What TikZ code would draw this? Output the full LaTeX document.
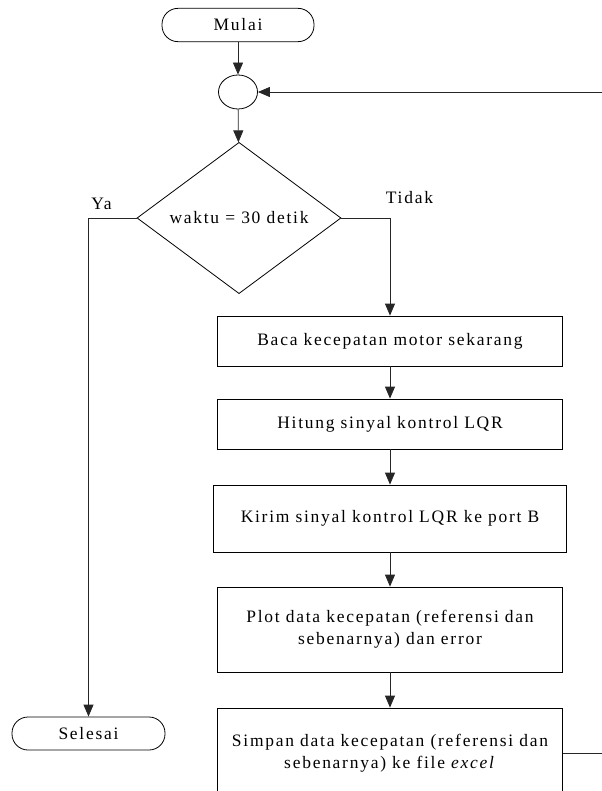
\documentclass[tikz,border=0pt]{standalone}
\usepackage{fontspec}
\setmainfont{Liberation Serif}[LetterSpace=10]
\usetikzlibrary{shapes.geometric,arrows.meta}

\tikzset{
	garis/.style={line width=0.6pt, color=black!85},
	panah/.style={garis, -{Triangle[length=9pt,width=7.5pt]}},
	terminal/.style={draw, line width=0.6pt, rounded corners=12pt, minimum width=114pt, minimum height=25pt, inner sep=0pt},
	proses/.style={draw, line width=0.6pt, align=center, minimum width=258.75pt, minimum height=37.5pt, inner sep=0pt},
}

\begin{document}
\begin{tikzpicture}[x=0.75pt, y=-0.75pt, font=\fontsize{13.1}{16.5}\selectfont]
	\useasboundingbox (0,0) rectangle (602,791);
	% terminal, titik sambung dan keputusan
	\node[terminal] (mulai) at (238,25) {Mulai};
	\node[draw, line width=0.6pt, ellipse, minimum width=29.25pt, minimum height=25.5pt, inner sep=0pt] (sambung) at (238,92) {};
	\node[draw, line width=0.6pt, diamond, minimum width=153pt, minimum height=112.5pt, inner sep=0pt] (cek) at (239,218) {waktu = 30 detik};
	\node (tidak) at (409.5,198) {Tidak};
	\node (ya) at (101.5,204) {Ya};
	\node[terminal, minimum width=114.75pt, minimum height=24.75pt] (selesai) at (88.5,733.5) {Selesai};
	% proses
	\node[proses] (baca) at (390,341) {Baca kecepatan motor sekarang};
	\node[proses] (hitung) at (390,424) {Hitung sinyal kontrol LQR};
	\node[proses, minimum width=264.75pt, minimum height=50.25pt] (kirim) at (390,518.5) {Kirim sinyal kontrol LQR ke port B};
	\node[proses, minimum height=63.75pt] (plot) at (390,629.5) {Plot data kecepatan (referensi dan\\sebenarnya) dan error};
	\node[proses, minimum height=67.5pt] (simpan) at (390,753) {Simpan data kecepatan (referensi dan\\sebenarnya) ke file \textit{excel}};
	% ujung kalang di tepi kanan
	\coordinate (balik) at (602,92);
	\coordinate (keluar) at (602,753);

	\draw[panah] (mulai) -- (sambung);
	\draw[panah] (sambung) -- (cek);
	\draw[panah] (cek.east) -| (baca.north);
	\draw[panah] (cek.west) -| (selesai.north);
	\draw[panah] (baca) -- (hitung);
	\draw[panah] (hitung) -- (kirim);
	\draw[panah] (kirim) -- (plot);
	\draw[panah] (plot) -- (simpan);
	\draw[garis] (simpan.east) -- (keluar);
	\draw[panah] (balik) -- (sambung.east);
\end{tikzpicture}
\end{document}
